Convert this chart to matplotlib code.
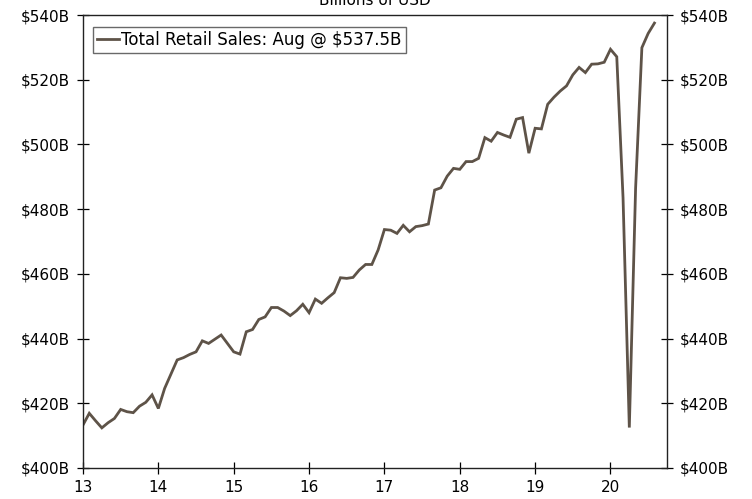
import matplotlib
matplotlib.use("Agg")
import matplotlib.pyplot as plt
import numpy as np

# Monthly total retail sales, billions USD, Jan 2013 - Aug 2020
sales_2013 = [413.3, 416.9, 414.6, 412.4, 414.0, 415.3, 418.1, 417.4, 417.1, 419.1, 420.3, 422.6]
sales_2014 = [418.4, 424.6, 429.0, 433.4, 434.1, 435.1, 435.9, 439.3, 438.5, 439.8, 441.1, 438.5]
sales_2015 = [435.9, 435.2, 442.1, 442.8, 445.9, 446.7, 449.6, 449.6, 448.5, 447.1, 448.6, 450.6]
sales_2016 = [448.0, 452.2, 450.9, 452.6, 454.2, 458.8, 458.6, 458.9, 461.2, 462.9, 462.9, 467.4]
sales_2017 = [473.7, 473.5, 472.5, 475.0, 473.0, 474.6, 474.9, 475.4, 485.9, 486.6, 490.2, 492.6]
sales_2018 = [492.3, 494.7, 494.7, 495.7, 502.1, 501.0, 503.7, 502.9, 502.2, 507.8, 508.3, 497.3]
sales_2019 = [505.0, 504.8, 512.4, 514.6, 516.5, 518.1, 521.5, 523.8, 522.2, 524.8, 524.9, 525.4]
sales_2020 = [529.4, 527.1, 483.5, 412.5, 486.5, 529.9, 534.3, 537.5]

values = sales_2013 + sales_2014 + sales_2015 + sales_2016 + sales_2017 + sales_2018 + sales_2019 + sales_2020
start_year = 13
x = start_year + np.arange(len(values)) / 12.0

series_label = "Total Retail Sales: Aug @ $537.5B"
title = "Billions of USD"
x_ticks = [13, 14, 15, 16, 17, 18, 19, 20]
y_ticks = [400, 420, 440, 460, 480, 500, 520, 540]

line_color = "#5E5348"

fig = plt.figure(figsize=(7.52, 4.99), dpi=100)
ax = fig.add_axes([83/752, 1 - 468/499, (667 - 83)/752, (468 - 15)/499])

ax.plot(x, values, color=line_color, linewidth=2.0, label=series_label, solid_joinstyle="miter")

ax.set_xlim(13, 20.75)
ax.set_ylim(400, 540)
ax.set_xticks(x_ticks)
ax.set_xticklabels([str(t) for t in x_ticks])
ax.set_yticks(y_ticks)
ax.set_yticklabels([f"${t}B" for t in y_ticks])

ax.tick_params(axis="both", direction="inout", length=9, width=0.9, labelsize=11, colors="black")
ax.tick_params(axis="y", left=True, right=True, labelleft=True, labelright=True, pad=5)
ax.tick_params(axis="x", pad=4)
for s in ax.spines.values():
    s.set_linewidth(1.0)
    s.set_color("#222222")

fig.text(375/752, 1.0 - 5/499, title, ha="center", va="baseline", fontsize=11)

leg = ax.legend(loc="upper left", bbox_to_anchor=(10/584, 1 - 12/453), fontsize=12, frameon=True,
                fancybox=False, handlelength=1.3, handletextpad=0.15, borderpad=0.25,
                borderaxespad=0.0)
leg.get_frame().set_edgecolor("#444444")
leg.get_frame().set_linewidth(1.0)

fig.savefig("out.png", dpi=100)
